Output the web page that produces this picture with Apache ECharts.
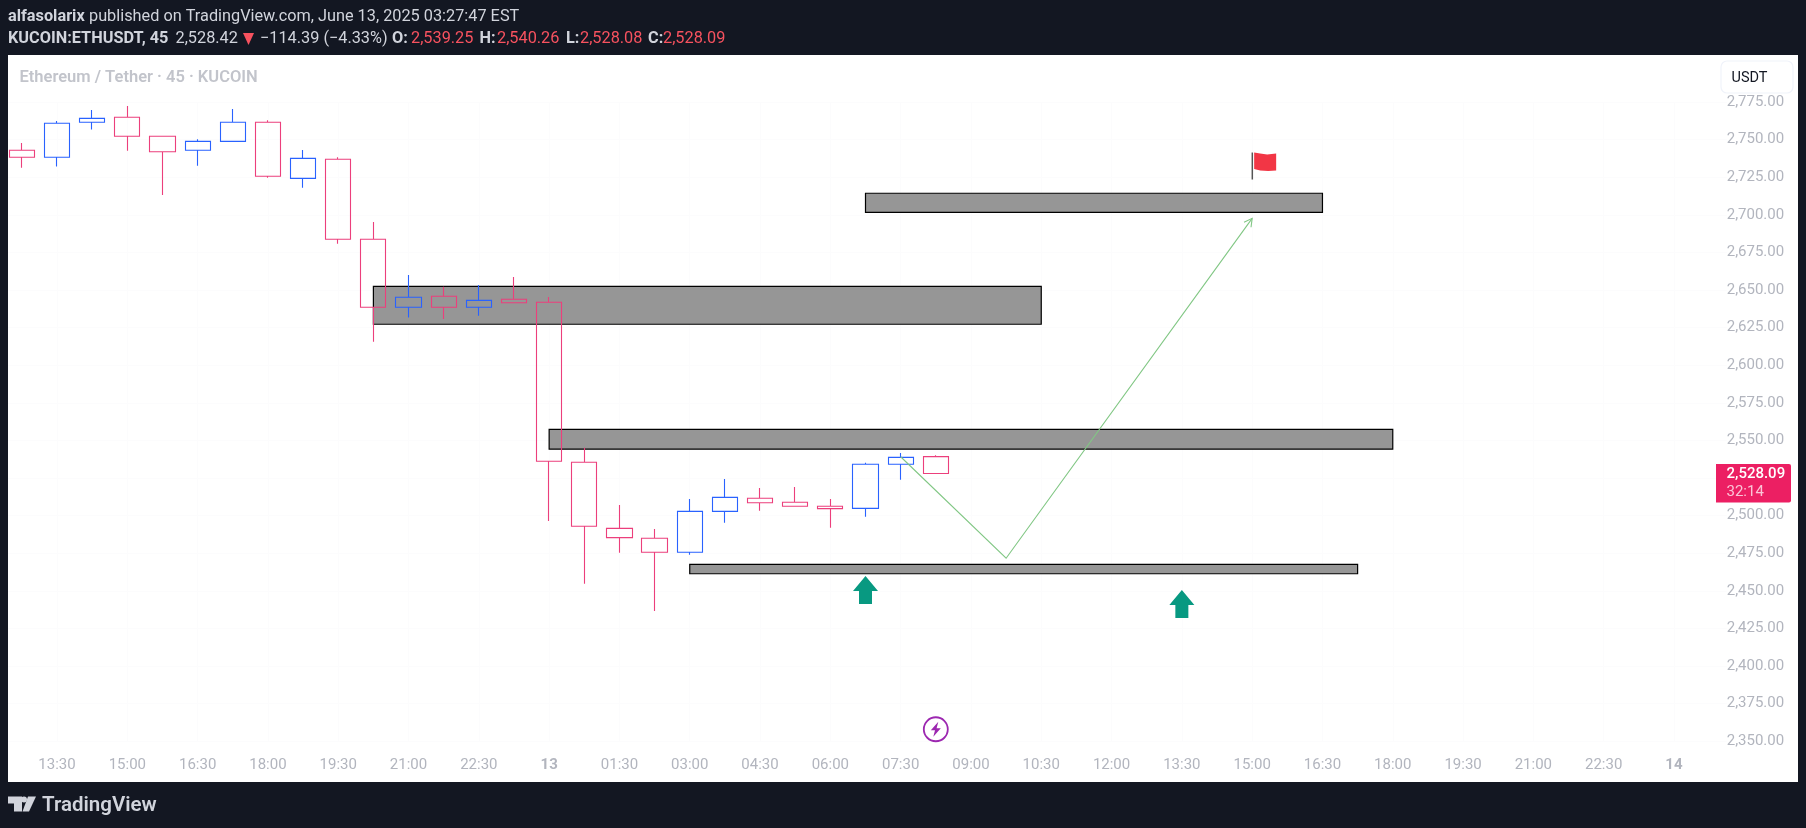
<!DOCTYPE html>
<html><head><meta charset="utf-8">
<style>html,body{margin:0;padding:0;background:#131722;overflow:hidden}#c{width:1806px;height:828px}</style>
<script src="https://cdn.jsdelivr.net/npm/echarts@6/dist/echarts.min.js"></script>
</head><body><div id="c"></div>
<script>
// Bar slots, 45 minutes apart
const categories = ['12:45','13:30','14:15','15:00','15:45','16:30','17:15','18:00','18:45','19:30','20:15','21:00','21:45','22:30','23:15','13','00:45','01:30','02:15','03:00','03:45','04:30','05:15','06:00','06:45','07:30','08:15','09:00','09:45','10:30','11:15','12:00','12:45','13:30','14:15','15:00','15:45','16:30','17:15','18:00','18:45','19:30','20:15','21:00','21:45','22:30','23:15','14','00:45'];
// [open, close, low, high]
const candles = [
[2743.0,2738.3,2731.4,2747.8],[2738.3,2760.9,2732.1,2762.4],[2761.6,2764.2,2756.7,2769.8],[2764.9,2752.3,2742.7,2772.4],
[2752.3,2742.0,2713.2,2752.5],[2743.0,2748.9,2732.7,2750.3],[2748.9,2761.6,2748.9,2770.4],[2761.6,2725.7,2724.7,2762.9],
[2724.3,2737.6,2718.1,2743.2],[2737.0,2683.8,2680.9,2738.3],[2683.8,2638.6,2615.7,2695.3],[2638.6,2645.2,2631.7,2660.0],
[2645.9,2638.6,2630.8,2652.3],[2638.6,2643.2,2633.0,2653.4],[2643.9,2641.6,2641.6,2658.7],[2641.9,2536.2,2496.5,2645.4],
[2535.5,2493.0,2454.8,2545.2],[2491.6,2485.4,2475.4,2507.1],[2485.0,2475.7,2436.6,2491.2],[2475.7,2502.9,2474.1,2511.1],
[2502.9,2512.2,2495.3,2524.4],[2511.6,2508.6,2503.3,2518.4],[2508.9,2506.3,2506.3,2519.1],[2506.3,2504.7,2492.0,2511.1],
[2504.9,2534.2,2499.3,2535.2],[2534.2,2538.8,2523.9,2541.7],[2539.25,2528.09,2528.08,2540.26]];
// [startBar, endBar, top, bottom]
const zones = [[10,29,2652.5,2627.3],[24,37,2714.4,2701.7],[15,39,2557.4,2544.2],[19,38,2467.7,2461.4]];
const forecastPath = [[25,2539.2],[28,2471.7],[35,2697.7]];
const upArrows = [[24,2450.6],[33,2441.3]];
const flagPoint = [[35,2732.5]];
const boltPoint = [[26,2358]];
const lastPrice = '2,528.09', countdown = '32:14';
const boldTicks = ['13','14'];

const FONT = 'Roboto';
const DARK = '#131722', AXIS = '#b2b5be', RED = '#f7525f', HEAD = '#d1d4dc';
const txt = (x, y, text, fill, size, weight, z) => ({type:'text', x, y, z: z||50, silent:true,
  style:{text, fill, font:(weight||400)+' '+(size||15)+'px '+FONT, textVerticalAlign:'middle', textBaseline:'middle'}});
const shift = (pts, dx, dy) => pts.map(q=>[q[0]+dx,q[1]+dy]);

const chart = echarts.init(document.getElementById('c'), null, {renderer:'canvas', width:1806, height:828});
chart.setOption({
  animation:false,
  backgroundColor:DARK,
  grid:{left:4.3, top:102.1, width:1722.4, height:639.2, containLabel:false},
  xAxis:{type:'category', data:categories, boundaryGap:true,
    axisLine:{show:false}, axisTick:{show:false, alignWithLabel:true},
    axisLabel:{margin:16, fontFamily:FONT, fontSize:15, color:AXIS, hideOverlap:false,
      interval:(i)=>i%2===1,
      formatter:(v)=>boldTicks.includes(v)?'{b|'+v+'}':v,
      rich:{b:{fontWeight:700, fontFamily:FONT, fontSize:15, color:AXIS}}},
    splitLine:{show:true, alignWithLabel:true, interval:(i)=>i%2===1, lineStyle:{color:'#fcfcfd', width:1}}},
  yAxis:{type:'value', position:'right', min:2350, max:2775, interval:25,
    axisLine:{show:false}, axisTick:{show:false},
    axisLabel:{margin:0, padding:[5,0,0,0], fontFamily:FONT, fontSize:15, color:AXIS, formatter:(v)=>v.toLocaleString('en-US',{minimumFractionDigits:2,maximumFractionDigits:2})},
    splitLine:{show:true, lineStyle:{color:'#fcfcfd', width:1}}},
  graphic:{elements:[
    {type:'rect', z:-5, silent:true, shape:{x:8,y:55,width:1790,height:727}, style:{fill:'#ffffff'}},
    {type:'rect', z:40, silent:true, shape:{x:0,y:55,width:8,height:727}, style:{fill:DARK}},
    txt(8,17,'alfasolarix',HEAD,16.3,700),
    txt(89,17,'published on TradingView.com, June 13, 2025 03:27:47 EST',HEAD,16.3,400),
    txt(8,39,'KUCOIN:ETHUSDT, 45',HEAD,16.3,700),
    txt(175.5,39,'2,528.42',HEAD,16.3,400),
    {type:'polygon', z:50, silent:true, shape:{points:[[243,33],[254,33],[248.5,45]]}, style:{fill:RED}},
    txt(260,39,'−114.39 (−4.33%)',HEAD,16.3,400),
    txt(392,39,'O:',HEAD,16.3,700), txt(411,39,'2,539.25',RED,16.3,400),
    txt(479.5,39,'H:',HEAD,16.3,700), txt(497,39,'2,540.26',RED,16.3,400),
    txt(566,39,'L:',HEAD,16.3,700), txt(580,39,'2,528.08',RED,16.3,400),
    txt(648,39,'C:',HEAD,16.3,700), txt(663,39,'2,528.09',RED,16.3,400),
    txt(19.5,78,'Ethereum / Tether · 45 · KUCOIN','#c2c4cb',16.5,600),
    {type:'rect', z:60, silent:true, shape:{x:1721,y:61,width:72,height:32,r:6}, style:{fill:'#ffffff',stroke:'#f0f3fa',lineWidth:1.2}},
    txt(1731.5,78,'USDT','#131722',14.5,400,61),
    {type:'rect', z:60, silent:true, shape:{x:1716,y:464,width:75,height:38.5,r:[0,2,2,0]}, style:{fill:'#ec1f63'}},
    txt(1726.5,474,lastPrice,'#ffffff',15,500,61),
    txt(1726.5,492,countdown,'#fbc4d6',15,400,61),
    {type:'polygon', z:50, silent:true, shape:{points:shift([[0,0],[14,0],[14,15],[6,15],[6,7],[0,7]],8,796.5)}, style:{fill:'#d1d4dc'}},
    {type:'polygon', z:50, silent:true, shape:{points:shift([[20,0],[28,0],[21,15],[14.5,15]],8,796.5)}, style:{fill:'#d1d4dc'}},
    {type:'circle', z:50, silent:true, shape:{cx:24,cy:799.5,r:3}, style:{fill:'#d1d4dc'}},
    txt(42,805.5,'TradingView','#d1d4dc',20.5,600)
  ]},
  series:[
    {type:'custom', name:'zones', z:1, clip:false, data:zones, silent:true,
      encode:{x:[0,1],y:[2,3]},
      renderItem:(p,api)=>{
        const a=api.coord([api.value(0),api.value(2)]), b=api.coord([api.value(1),api.value(3)]);
        return {type:'rect', shape:{x:a[0],y:a[1],width:b[0]-a[0],height:b[1]-a[1]},
          style:{fill:'#969696',stroke:'#000000',lineWidth:1.2}};
      }},
    {type:'candlestick', name:'ETHUSDT', z:3, data:candles, barWidth:25.7, silent:true,
      itemStyle:{color:'rgba(0,0,0,0)',color0:'rgba(0,0,0,0)',borderColor:'#2962ff',borderColor0:'#ec3f7c',borderWidth:1.1}},
    {type:'custom', name:'forecast', z:5, clip:false, silent:true, data:[0],
      renderItem:(p,api)=>{
        const pts=forecastPath.map(q=>api.coord(q)), e=pts[2], s=pts[1];
        const ang=Math.atan2(e[1]-s[1],e[0]-s[0]), L=9, sp=0.5;
        const h1=[e[0]-L*Math.cos(ang-sp),e[1]-L*Math.sin(ang-sp)], h2=[e[0]-L*Math.cos(ang+sp),e[1]-L*Math.sin(ang+sp)];
        const st={fill:null,stroke:'#81c784',lineWidth:1.1};
        return {type:'group',children:[
          {type:'polyline',shape:{points:pts},style:st},
          {type:'polyline',shape:{points:[h1,e,h2]},style:st}]};
      }},
    {type:'scatter', name:'arrows', z:6, silent:true, data:upArrows,
      symbol:'path://M12.5 0L25 15H19V28H6V15H0Z', symbolSize:[25,28],
      itemStyle:{color:'#089981',opacity:1}},
    {type:'custom', name:'flag', z:6, clip:false, silent:true, data:flagPoint,
      encode:{x:0,y:1},
      renderItem:(p,api)=>{
        const c=api.coord([api.value(0),api.value(1)]), x=c[0], y=c[1];
        return {type:'group',children:[
          {type:'rect',shape:{x:x-0.6,y:y-13.5,width:1.5,height:27},style:{fill:'#555555'}},
          {type:'polygon',shape:{points:shift([[2,-13.5],[8,-12.5],[15,-11.5],[24,-12.5],[24,4.5],[16,5],[8,4.5],[2,3]],x,y)},style:{fill:'#f23645'}}
        ]};
      }},
    {type:'custom', name:'bolt', z:6, clip:false, silent:true, data:boltPoint,
      encode:{x:0,y:1},
      renderItem:(p,api)=>{
        const c=api.coord([api.value(0),api.value(1)]), x=c[0], y=c[1];
        return {type:'group',children:[
          {type:'circle',shape:{cx:x,cy:y,r:12},style:{fill:'#ffffff',stroke:'#9c27b0',lineWidth:1.8}},
          {type:'polygon',shape:{points:shift([[2.5,-7.5],[-5,1],[-0.8,1],[-2.5,7.5],[5,-1],[0.8,-1]],x,y)},style:{fill:'#9c27b0'}}
        ]};
      }}
  ]
});
</script></body></html>
